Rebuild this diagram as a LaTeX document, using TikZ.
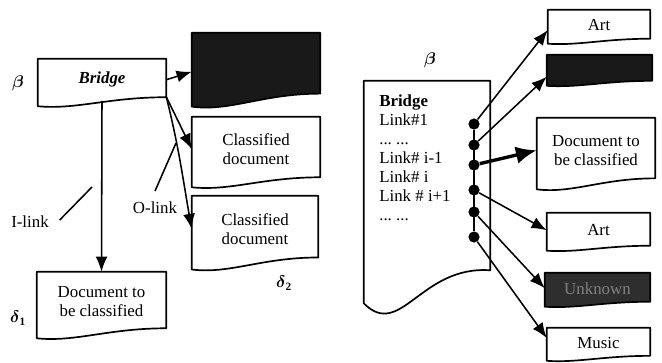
\documentclass[tikz,border=0pt]{standalone}
\usepackage{amsmath}
\usepackage{fontspec}
\setmainfont{Liberation Serif}
\usetikzlibrary{arrows.meta,calc,backgrounds}

% outline of a document with a wavy lower edge
\newcommand{\docframe}[3][white]{%
  \begin{pgfonlayer}{background}
  \draw[docline,fill=#1] (#2.north west) -- (#2.north east)
    -- ($(#2.south east)+(0,-0.4*#3)$)
    .. controls ($(#2.south east)!0.45!(#2.south west)+(0,-0.4*#3)$)
    and ($(#2.south east)!0.7!(#2.south west)+(0,1.0*#3)$)
    .. ($(#2.south west)+(0,0.6*#3)$) -- cycle;
  \end{pgfonlayer}}

\begin{document}
\begin{tikzpicture}[x=0.25mm,y=-0.25mm,
  every node/.style={font=\fontsize{12}{13.5}\selectfont},
  doc/.style={inner sep=0pt,align=center},
  docline/.style={line width=1.2pt,line join=round},
  arr/.style={line width=1.1pt,-{Latex[length=3.8mm,width=3mm]}},
  bigarr/.style={line width=2.4pt,-{Latex[length=5.2mm,width=4.4mm]}},
  linkdot/.style={circle,fill=black,inner sep=0pt,minimum size=2.8mm}]

	\useasboundingbox (0,0) rectangle (662,362);

	%\draw[step=20,gray,very thin] (0,0) grid (662,362);

	% left: bridge with its in- and out-links
	\node[doc,minimum width=32mm,minimum height=10.4mm] (bridgeL) at (102,79.75) {\textbf{\textit{Bridge}}};
	\node[doc,minimum width=32mm,minimum height=16.4mm] (darkL) at (256,65.75) {};
	\node[doc,minimum width=32mm,minimum height=16mm] (classA) at (256,149) {Classified\\document};
	\node[doc,minimum width=31.5mm,minimum height=16.5mm] (classB) at (255,229) {Classified\\document};
	\node[doc,minimum width=32.25mm,minimum height=15mm] (docL) at (101.5,302) {Document to\\be classified};

	\docframe{bridgeL}{9}
	\docframe[black!90]{darkL}{13}
	\docframe{classA}{10}
	\docframe{classB}{12}
	\docframe{docL}{10}

	\node (betaL) at (18,83) {$\boldsymbol{\beta}$};
	\node (delta1) at (18,318) {$\boldsymbol{\delta}_{\mathbf 1}$};
	\node (delta2) at (284,283) {$\boldsymbol{\delta}_{\mathbf 2}$};

	\coordinate (oroot) at ($(bridgeL.south east)+(0,-4)$);
	\draw[arr] (bridgeL.east) -- ([yshift=-1.5mm]darkL.west);
	\draw[arr] (oroot) -- (classA.west);
	\draw[arr] (oroot) to[out=-76,in=100] (classB.west);
	\draw[arr] (bridgeL.south) -- (docL.north);

	\node (ilink) at (30,222) {I-link};
	\coordinate (ilinkend) at (92,187);
	\draw[line width=1.1pt] ([xshift=1.5mm,yshift=0.5mm]ilink.east) -- (ilinkend);

	\node (olink) at (155,208) {O-link};
	\coordinate (olinkend) at (176,143);
	\draw[line width=1.1pt] ([yshift=1.5mm]olink.north) -- (olinkend);

	% right: bridge as a list of links
	\node[doc,minimum width=31.5mm,minimum height=47.25mm] (bridgeR) at (427,175.5) {};
	\begin{pgfonlayer}{background}
	\draw[docline,fill=white] (bridgeR.north west) -- (bridgeR.north east) -- (bridgeR.south east)
	   .. controls +(-70,-5) and +(37,37) .. ($(bridgeR.south west)+(0,33)$) -- cycle;
	\end{pgfonlayer}
	\node[inner sep=0pt,anchor=north west,align=left] (linklist) at (379,95)
	   {\textbf{Bridge}\\Link\#1\\...\ ...\\Link\# i-1\\Link\# i\\Link \# i+1\\...\ ...};
	\node (betaR) at (430,60) {$\boldsymbol{\beta}$};

	\node[doc,minimum width=25.5mm,minimum height=7.6mm] (art1) at (599,25.25) {Art};
	\node[doc,minimum width=26.25mm,minimum height=6.9mm] (darkR1) at (599.5,68.75) {};
	\node[doc,minimum width=29.5mm,minimum height=16.1mm] (docR) at (596,150.25) {Document to\\be classified};
	\node[doc,minimum width=25.75mm,minimum height=8.6mm] (art2) at (598.5,230.25) {Art};
	\node[doc,minimum width=26.25mm,minimum height=7.6mm,text=black!50] (darkR2) at (597.5,288.25) {Unknown};
	\node[doc,minimum width=25.75mm,minimum height=7.4mm] (music) at (598.5,342.75) {Music};

	\docframe{art1}{5}
	\docframe[black!90]{darkR1}{5}
	\docframe{docR}{11}
	\docframe{art2}{5}
	\docframe[black!82]{darkR2}{5}
	\docframe{music}{5}

	\foreach \i/\y in {1/124,2/145,3/165,4/190,5/212,6/237}
	   \node[linkdot] (d\i) at (474,\y) {};
	\draw[line width=1.1pt] (d1) -- (d6);

	\draw[arr] (d1) -- ([yshift=-1.2mm]art1.west);
	\draw[arr] (d2) -- ([yshift=-2mm]darkR1.west);
	\draw[bigarr] (d3) -- (docR.west);
	\draw[arr] (d4) -- (art2.west);
	\draw[arr] (d5) -- (darkR2.west);
	\draw[arr] (d6) -- ([yshift=1.2mm]music.west);

\end{tikzpicture}
\end{document}
